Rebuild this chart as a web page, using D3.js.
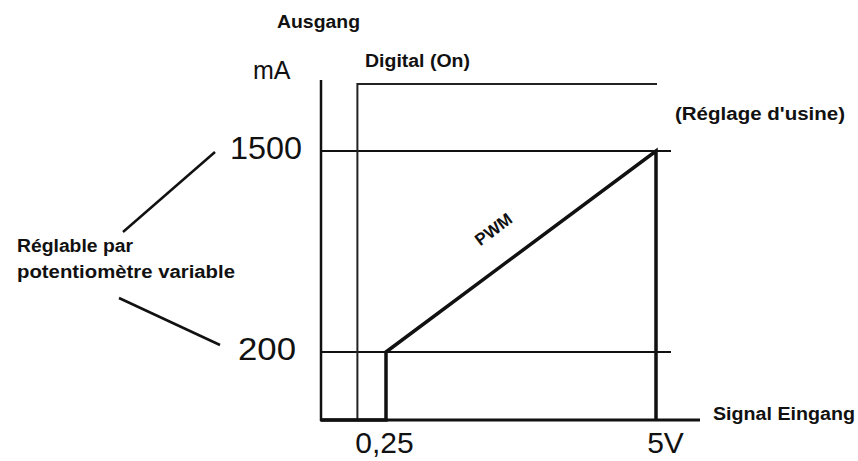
<!DOCTYPE html>
<html>
<head>
<meta charset="utf-8">
<script src="https://cdn.jsdelivr.net/npm/d3@7/dist/d3.min.js"></script>
<style>
  html, body { margin: 0; padding: 0; background: #fff; }
  svg { display: block; }
</style>
</head>
<body>
<svg id="chart" width="858" height="461"></svg>
<script>
// ---- data ----
const xBreaks = [0, 0.25, 5];            // input voltage breakpoints (schematic, not to scale)
const yBreaks = [0, 200, 1500, 2000];     // output current breakpoints (schematic)
const xTicks = [0.25, 5];
const xTickLabels = ["0,25", "5V"];
const yTicks = [200, 1500];
const yTickLabels = ["200", "1500"];
const digitalOnV = 0.14;                  // digital switching threshold
const digitalOnLevel = 2000;              // digital "On" level
const outputV = [0, 0.25, 0.25, 5, 5];    // output characteristic (PWM)
const outputI = [0, 0, 200, 1500, 0];

// ---- setup ----
const svg = d3.select("#chart");
const x = d3.scaleLinear().domain(xBreaks).range([321, 386, 656]);
const y = d3.scaleLinear().domain(yBreaks).range([420, 352, 151, 84]);
const ink = "#111";
const boldFont = "'Liberation Sans', Arial, sans-serif";

// reference lines 200 / 1500
svg.selectAll("line.ref").data(yTicks).enter().append("line")
  .attr("x1", x(0)).attr("x2", 671)
  .attr("y1", d => y(d)).attr("y2", d => y(d))
  .attr("stroke", ink).attr("stroke-width", 2);

// digital (On) line
svg.append("path")
  .attr("d", d3.line()([[x(digitalOnV), y(0)], [x(digitalOnV), y(digitalOnLevel)], [657, y(digitalOnLevel)]]))
  .attr("fill", "none").attr("stroke", "#222").attr("stroke-width", 2);

// axes lines
svg.append("line").attr("x1", x(0)).attr("x2", x(0)).attr("y1", 80).attr("y2", y(0) + 1)
  .attr("stroke", ink).attr("stroke-width", 2.5);
svg.append("line").attr("x1", x(0) - 1).attr("x2", 700).attr("y1", y(0)).attr("y2", y(0))
  .attr("stroke", ink).attr("stroke-width", 3);

// output curve
svg.append("path")
  .datum(outputV.map((v, i) => [v, outputI[i]]))
  .attr("d", d3.line().x(d => x(d[0])).y(d => y(d[1])))
  .attr("fill", "none").attr("stroke", ink).attr("stroke-width", 3.5)
  .attr("stroke-linejoin", "miter");

// y axis tick labels
const yAxis = svg.append("g").attr("transform", `translate(${x(0)},0)`)
  .call(d3.axisLeft(y).tickValues(yTicks).tickSize(0).tickPadding(19)
    .tickFormat((d, i) => yTickLabels[i]));
yAxis.select(".domain").remove();
yAxis.selectAll("text").attr("font-family", "'Liberation Sans', Arial, sans-serif")
  .attr("font-size", 31).attr("fill", ink).attr("dy", "0.25em")
  .attr("dx", d => d === 200 ? -6 : 0)
  .attr("textLength", d => d === 200 ? 58 : 72).attr("lengthAdjust", "spacingAndGlyphs");

// x axis tick labels
const xAxis = svg.append("g").attr("transform", `translate(0,${y(0)})`)
  .call(d3.axisBottom(x).tickValues(xTicks).tickSize(0).tickPadding(12)
    .tickFormat((d, i) => xTickLabels[i]));
xAxis.select(".domain").remove();
xAxis.selectAll("text").attr("font-family", "'Liberation Sans', Arial, sans-serif")
  .attr("font-size", 30).attr("fill", ink)
  .attr("dx", d => d === 5 ? 9 : -2);

// unit label
svg.append("text").attr("x", 253).attr("y", 79).text("mA")
  .attr("font-family", "'Liberation Sans', Arial, sans-serif").attr("font-size", 25).attr("fill", ink);

// bold labels
function label(txt, xx, yy, len, size) {
  return svg.append("text").attr("x", xx).attr("y", yy).text(txt)
    .attr("font-family", boldFont).attr("font-weight", "bold")
    .attr("font-size", size || 18).attr("fill", ink)
    .attr("textLength", len).attr("lengthAdjust", "spacingAndGlyphs");
}
label("Ausgang", 277, 28, 83);
label("Digital (On)", 365, 67, 105);
label("(Réglage d'usine)", 675, 120, 170);
label("Signal Eingang", 713, 420, 142);

const adj = svg.append("text").attr("x", 17).attr("y", 252)
  .attr("font-family", boldFont).attr("font-size", 18).attr("fill", ink)
  .attr("textLength", 116).attr("lengthAdjust", "spacingAndGlyphs");
adj.append("tspan").attr("font-weight", "bold").text("Réglable ");
adj.append("tspan").attr("font-weight", "600").text("par");
label("potentiomètre variable", 17, 278, 218);

// PWM label along the ramp
const ang = Math.atan2(y(200) - y(1500), x(5) - x(0.25)) * 180 / Math.PI;
svg.append("text").attr("transform", `translate(497,234) rotate(${-ang})`)
  .attr("text-anchor", "middle").text("PWM")
  .attr("font-family", boldFont).attr("font-weight", "bold").attr("font-size", 17).attr("fill", ink);

// leader lines
svg.append("line").attr("x1", 215).attr("y1", 152).attr("x2", 123).attr("y2", 232)
  .attr("stroke", ink).attr("stroke-width", 2.5);
svg.append("line").attr("x1", 119).attr("y1", 298).attr("x2", 220).attr("y2", 345)
  .attr("stroke", ink).attr("stroke-width", 2.5);
</script>
</body>
</html>
